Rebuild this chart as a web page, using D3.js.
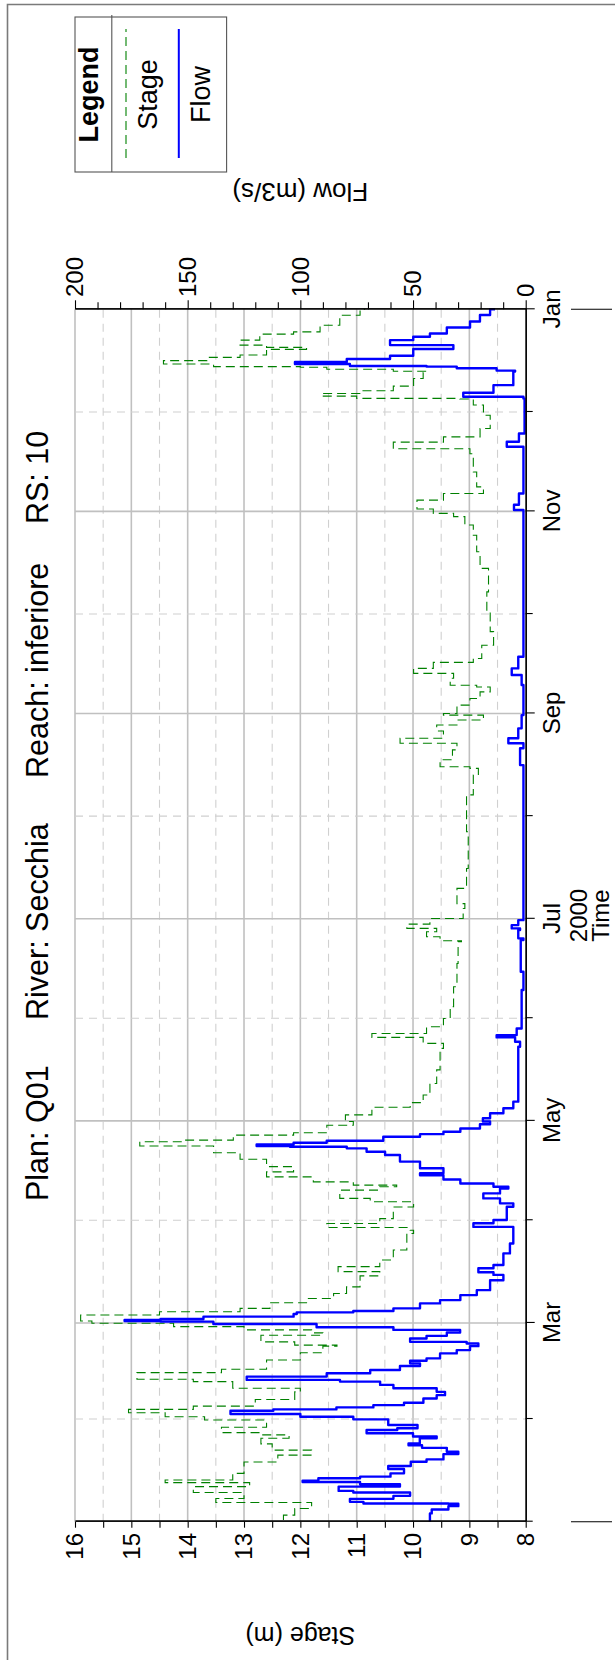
<!DOCTYPE html>
<html>
<head>
<meta charset="utf-8">
<script src="https://cdn.jsdelivr.net/npm/d3@7"></script>
<style>
  body { margin: 0; background: #fff; }
  text { font-family: "Liberation Sans", Arial, sans-serif; }
</style>
</head>
<body>
<div id="chart"></div>
<script>
// series values: [day of year 2000, value]
const flowSeries = [
  [0,42.5],[2.5,41.7],[3.7,34.3],[4.7,29.9],[5.4,34.3],[5.5,72],[6.0,78],[6.9,58.7],[7.8,51.3],[8.8,76.5],
  [9.3,83],[10.6,55.8],[11.3,73.5],[12.0,99],[12.4,92],[13.1,73.5],[13.6,60],[14.6,54],[15.9,61],[16.8,51],
  [18.1,44],[18.8,36.5],[20.4,29.9],[21.1,35],[22.3,46],[23.1,52],[23.6,47],[25.2,39.5],[25.7,50],[26.7,70.6],
  [27.7,57],[28.2,48],[29.2,61],[30.9,76.5],[31.7,100],[32.5,131],[33.5,112],[33.9,84],[34.5,67.6],[35.2,54],
  [35.9,45.4],[37.2,39.5],[38.2,35.8],[39.2,39.5],[40.3,58.7],[41.3,64.6],[42.3,82.4],[42.8,123.8],[43.8,88.3],
  [44.8,69],[45.8,55.8],[47.0,46.9],[47.8,51.3],[48.6,44],[49.3,38],[50.8,30.6],[51.8,24.7],[53.0,21],[53.8,26.2],
  [54.3,51.3],[55.3,44],[56.1,35],[57.1,29.1],[57.9,58.7],[58.7,92.8],[59.7,138.6],[60.4,162],[60.6,178],[60.9,162],
  [61.2,143],[61.9,103],[62.7,101.6],[63.2,76.5],[63.6,58.7],[64.4,46.9],[65.9,38],[66.9,29],[68.4,21.7],[69.9,15.8],
  [72.9,9.9],[74.5,14.3],[75.3,21],[76.5,14.3],[77.5,9.9],[81.0,7],[84.0,5.5],[88.0,5.5],[89.0,23.2],[90.1,14.3],
  [91.1,8.4],[95.1,5.5],[96.1,11.4],[97.6,18.8],[99.1,11.4],[100.6,7.7],[101.1,14.3],[102.1,29],[103.3,36.5],
  [104.6,46.9],[105.2,36.5],[106.7,46.9],[108.7,55.8],[110.7,62.4],[111.7,70.6],[112.7,79.4],[113.2,104.6],
  [113.4,119.4],[113.9,103],[114.4,88.3],[115.0,63.2],[116.2,46.9],[117.0,36.5],[117.7,29],[118.7,20.3],[120.0,15.8],
  [120.8,19],[121.8,15.8],[123.3,9.9],[124.8,5.5],[126.8,3.3],[135.8,3.3],[143.4,2.5],[144.9,4.7],[146.2,12.9],
  [146.9,4],[148.9,1.8],[160.5,1.0],[166.0,2.2],[175.6,1.0],[176.1,3.3],[178.6,2.5],[179.1,6.2],[180.1,3.3],
  [181.6,1.0],[187.2,1.0],[227.4,1.0],[228.4,2.5],[233.5,1.0],[235.0,7.7],[236.5,3.3],[239.5,1.8],[243.5,1.0],
  [250.6,1],[252.6,1.8],[255.6,6.2],[257.6,3.3],[261.1,1],[302.9,1],[305.4,5.2],[307,3],[310.4,1],[323.0,1],
  [324.5,8.4],[326,3],[328.5,0.5],[339.1,1],[339.6,27.7],[340.8,14.3],[343.1,5.5],[347.2,4.7],[347.5,12.9],
  [348.2,30.6],[348.7,44],[348.9,78],[349.5,102.4],[350.1,79.4],[351.0,60.2],[352.0,49.9],[354.0,32.1],[355.2,60.2],
  [356.7,49.9],[357.7,42.5],[358.7,35],[360.5,24.7],[362.3,20.3],[364.3,15.8],[366.0,13.6]
];

const stageSeries = [
  [0.5,12.3],[2.0,12.1],[4.0,11.8],[5.8,13.5],[7.0,13.0],[8.8,13.9],[10.6,12.9],[11.8,14.4],[12.6,13.2],[14.6,13.0],
  [16.6,13.0],[18,12.4],[20.1,11.8],[21.6,12.5],[23.5,12.7],[25.2,12.2],[26.2,12.7],[26.9,13.4],[28.5,12.6],
  [30.7,13.7],[31.7,14.4],[32.9,15.05],[33.9,13.9],[34.9,12.8],[36.9,12.1],[39.2,12.0],[40.3,13.2],[42.3,13.9],
  [43.0,14.9],[45,13.4],[46,12.6],[48.8,12.0],[51,11.6],[53,11.35],[53.3,12.1],[54.3,12.7],[56.3,11.6],[57,11.8],
  [57.9,13.0],[58.9,14.25],[59.9,15.7],[60.6,15.9],[62.4,14.5],[63.4,13.07],[64.4,12.54],[66.1,11.89],[67.4,11.41],
  [68.9,11.18],[70.9,10.94],[74.2,10.59],[75.5,11.33],[77.0,10.59],[79.0,10.35],[82.0,10.11],[87.0,9.99],[88.0,10.05],
  [88.8,11.53],[90.0,10.59],[91.5,10.35],[95.0,9.99],[96.6,10.76],[97.6,11.30],[100.1,10.59],[101.1,10.29],
  [101.6,11.06],[102.6,11.77],[104.1,12.6],[105.6,12.12],[107.2,12.6],[109.4,13.07],[111.4,13.54],[113.4,14.85],
  [114.7,14.08],[115.2,13.19],[116.7,12.12],[117.4,11.53],[119.7,11.06],[120.8,11.2],[122.8,10.73],[125.1,10.05],
  [126.5,9.82],[128.8,9.70],[132.3,9.58],[136.4,9.52],[142.9,9.46],[144.4,9.82],[146.2,10.73],[147.4,9.76],
  [149.4,9.46],[151.9,9.34],[155.5,9.28],[161.5,9.22],[168.5,9.20],[175.1,9.14],[175.4,9.52],[176.6,9.76],
  [178.1,9.58],[179.1,10.11],[180.4,9.70],[182.1,9.11],[185.1,9.08],[186.6,9.22],[191.2,9.05],[197.2,9.02],
  [208.3,9.05],[214.3,9.05],[219.4,8.93],[225.4,8.84],[227.4,8.99],[227.9,9.52],[230,9.3],[233.0,9.22],[235.0,10.23],
  [236.5,9.46],[238.7,9.58],[240.5,9.22],[242.0,8.75],[243.5,9.46],[244.0,9.22],[246.5,8.99],[248.5,8.81],
  [250.5,8.63],[252.0,8.87],[252.5,9.34],[254.6,9.28],[256.1,9.99],[257.6,9.64],[259.4,8.93],[260.6,8.78],
  [264.6,8.57],[268.7,8.63],[274.7,8.69],[280.7,8.66],[287.8,8.81],[292.8,8.87],[297.8,8.93],[300.9,9.08],
  [303.4,9.28],[304.4,9.64],[305.7,9.93],[308.4,9.46],[310.4,8.75],[312.4,8.87],[316.9,8.93],[322.4,8.99],
  [323.9,10.35],[325.9,9.46],[327.5,8.81],[330.0,8.63],[334.0,8.75],[337.1,8.93],[338.9,9.17],[339.1,11.0],
  [339.8,11.62],[340.6,10.94],[341.4,10.35],[342.8,9.99],[345.1,9.82],[346.9,9.76],[347.3,10.35],[347.9,11.53],
  [348.5,12.0],[348.7,13.54],[349.5,14.43],[350.5,13.66],[351.5,13.07],[352.2,12.6],[353.9,11.89],[354.5,12.6],
  [355.2,13.07],[356.7,12.72],[358.5,12.12],[359.2,11.65],[361.2,11.30],[364.2,10.94],[366,10.85]
];

const majorMonths = [2, 4, 6, 8, 10, 12];   // Mar, May, Jul, Sep, Nov, Jan(next)
const minorMonths = [0, 1, 3, 5, 7, 9, 11];
const monthNames = ['Jan','Feb','Mar','Apr','May','Jun','Jul','Aug','Sep','Oct','Nov','Dec','Jan'];
const stageTicks = [8, 9, 10, 11, 12, 13, 14, 15, 16];
const flowTicks = [0, 50, 100, 150, 200];
const titleParts = ['Plan: Q01', 'River: Secchia', 'Reach: inferiore', 'RS: 10'];

// the chart is drawn in its own upright frame, then turned a quarter left
const W = 1660, H = 615;
const m = { left: 138.3, right: 1350.7, top: 75, bottom: 525.7 };
const day0 = Date.UTC(2000, 0, 1);
const toDate = d => new Date(day0 + d * 864e5);
const monthDate = k => new Date(Date.UTC(2000, k, 1));

const svg = d3.select('#chart').append('svg')
  .attr('width', 615).attr('height', 1660);
svg.append('rect').attr('width', 615).attr('height', 1660).attr('fill', '#fff');

const g = svg.append('g').attr('transform', `translate(0,${W}) rotate(-90)`);

const x = d3.scaleUtc().domain([monthDate(0), monthDate(12)]).range([m.left, m.right]);
const yStage = d3.scaleLinear().domain([8, 16]).range([m.bottom, m.top]);
const yFlow = d3.scaleLinear().domain([0, 200]).range([m.bottom, m.top]);

// outer frame (only the two visible sides)
g.append('path')
  .attr('d', `M-10,7.5H${W - 4.5}V${H + 10}`)
  .attr('fill', 'none').attr('stroke', '#7a7a7a').attr('stroke-width', 1.6);

// grid
const grid = g.append('g');
d3.range(8.5, 16.01, 0.5).forEach(v => {
  const solid = Number.isInteger(v);
  grid.append('line')
    .attr('x1', m.left).attr('x2', m.right)
    .attr('y1', yStage(v)).attr('y2', yStage(v))
    .attr('stroke', solid ? '#c0c0c0' : '#d0d0d0')
    .attr('stroke-width', solid ? 1.6 : 1.1)
    .attr('stroke-dasharray', solid ? null : '8,6');
});
d3.range(1, 12).forEach(k => {
  const solid = majorMonths.includes(k);
  grid.append('line')
    .attr('x1', x(monthDate(k))).attr('x2', x(monthDate(k)))
    .attr('y1', m.top).attr('y2', m.bottom)
    .attr('stroke', solid ? '#c0c0c0' : '#d0d0d0')
    .attr('stroke-width', solid ? 1.6 : 1.1)
    .attr('stroke-dasharray', solid ? null : '8,6');
});

// series, drawn as steps like the source program does
const stageLine = d3.line().curve(d3.curveStepAfter)
  .x(d => x(toDate(d[0]))).y(d => yStage(d[1]));
const flowLine = d3.line().curve(d3.curveStepAfter)
  .x(d => x(toDate(d[0]))).y(d => yFlow(d[1]));

g.append('path').datum(stageSeries)
  .attr('d', stageLine)
  .attr('fill', 'none').attr('stroke', '#008000').attr('stroke-width', 1.1)
  .attr('stroke-dasharray', '9,5');

g.append('path').datum(flowSeries)
  .attr('d', flowLine)
  .attr('fill', 'none').attr('stroke', '#0000ff').attr('stroke-width', 2.4)
  .attr('stroke-linejoin', 'round');

// axes
const font = 'Liberation Sans, Arial, sans-serif';
function styleAxis(sel, size) {
  sel.select('.domain').attr('stroke', '#000').attr('stroke-width', 1.3);
  sel.selectAll('.tick line').attr('stroke', '#000').attr('stroke-width', 1.1);
  sel.selectAll('text').attr('font-family', font).attr('font-size', size).attr('fill', '#000');
}

const xMajor = g.append('g').attr('transform', `translate(0,${m.bottom})`)
  .call(d3.axisBottom(x).tickValues(majorMonths.map(monthDate))
    .tickSize(9).tickPadding(8.3).tickSizeOuter(0)
    .tickFormat(d => monthNames[d.getUTCMonth() + (d.getUTCFullYear() > 2000 ? 12 : 0)]));
styleAxis(xMajor, 24);

const xMinor = g.append('g').attr('transform', `translate(0,${m.bottom})`)
  .call(d3.axisBottom(x).tickValues(minorMonths.map(monthDate))
    .tickSize(7).tickSizeOuter(0).tickFormat(''));
styleAxis(xMinor, 24);

// long year-boundary ticks and year / axis title
[monthDate(0), monthDate(12)].forEach(d => {
  g.append('line').attr('x1', x(d)).attr('x2', x(d)).attr('y1', 571).attr('y2', 612)
    .attr('stroke', '#000').attr('stroke-width', 1.1);
});
g.append('text').attr('x', (m.left + m.right) / 2).attr('y', 587)
  .attr('text-anchor', 'middle').attr('font-size', 24).text('2000');
g.append('text').attr('x', (m.left + m.right) / 2).attr('y', 609)
  .attr('text-anchor', 'middle').attr('font-size', 24).text('Time');

const yLeft = g.append('g').attr('transform', `translate(${m.left},0)`)
  .call(d3.axisLeft(yStage).tickValues(stageTicks).tickSize(6).tickPadding(5.3).tickSizeOuter(0));
styleAxis(yLeft, 24);
const yLeftMinor = g.append('g').attr('transform', `translate(${m.left},0)`)
  .call(d3.axisLeft(yStage).tickValues(d3.range(8.5, 16, 1)).tickSize(6).tickSizeOuter(0).tickFormat(''));
styleAxis(yLeftMinor, 24);

const yRight = g.append('g').attr('transform', `translate(${m.right},0)`)
  .call(d3.axisRight(yFlow).tickValues(flowTicks).tickSize(9).tickPadding(3.3).tickSizeOuter(0));
styleAxis(yRight, 24);
const yRightMinor = g.append('g').attr('transform', `translate(${m.right},0)`)
  .call(d3.axisRight(yFlow).tickValues(d3.range(10, 200, 10).filter(v => v % 50)).tickSize(7).tickSizeOuter(0).tickFormat(''));
styleAxis(yRightMinor, 24);

// axis titles
g.append('text').attr('transform', `translate(33,${(m.top + m.bottom) / 2}) rotate(-90)`)
  .attr('text-anchor', 'middle').attr('font-size', 25).text('Stage (m)');
g.append('text').attr('transform', `translate(1477,${(m.top + m.bottom) / 2}) rotate(-90)`)
  .attr('text-anchor', 'middle').attr('font-size', 26).text('Flow (m3/s)');

// title
const titleX = [459, 640, 882, 1136];
titleParts.forEach((t, i) => {
  g.append('text').attr('x', titleX[i]).attr('y', 48).attr('font-size', 30.5).text(t);
});

// legend
const lg = g.append('g');
const lx0 = 1488, lx1 = 1643, lcx = (lx0 + lx1) / 2;
lg.append('rect').attr('x', lx0).attr('y', 75).attr('width', lx1 - lx0).attr('height', 151.6)
  .attr('fill', '#fff').attr('stroke', '#555').attr('stroke-width', 1.1);
lg.append('line').attr('x1', lx0).attr('x2', lx1 + 2).attr('y1', 111.8).attr('y2', 111.8)
  .attr('stroke', '#555').attr('stroke-width', 1.1);
lg.append('text').attr('x', lcx).attr('y', 98).attr('text-anchor', 'middle')
  .attr('font-size', 27).attr('font-weight', 'bold').text('Legend');
lg.append('line').attr('x1', lx0 + 14).attr('x2', lx1 - 12).attr('y1', 126).attr('y2', 126)
  .attr('stroke', '#008000').attr('stroke-width', 1.1).attr('stroke-dasharray', '9,5');
lg.append('text').attr('x', lcx).attr('y', 157).attr('text-anchor', 'middle')
  .attr('font-size', 27).text('Stage');
lg.append('line').attr('x1', lx0 + 14).attr('x2', lx1 - 12).attr('y1', 178.8).attr('y2', 178.8)
  .attr('stroke', '#0000ff').attr('stroke-width', 2).attr('stroke-dasharray', null);
lg.append('text').attr('x', lcx).attr('y', 210).attr('text-anchor', 'middle')
  .attr('font-size', 27).text('Flow');
</script>
</body>
</html>
